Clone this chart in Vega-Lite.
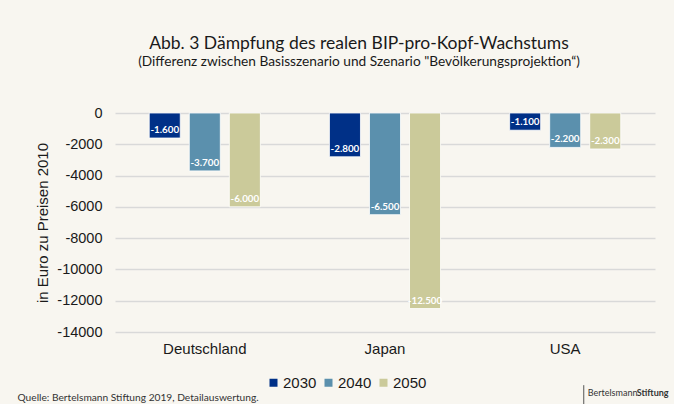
{
  "$schema": "https://vega.github.io/schema/vega-lite/v6.json",
  "width": 540,
  "height": 219,
  "autosize": {"type": "none"},
  "padding": {"left": 115, "top": 113, "right": 19, "bottom": 72},
  "background": "#F8F6F0",
  "title": {
    "text": "Abb. 3 Dämpfung des realen BIP-pro-Kopf-Wachstums",
    "subtitle": "(Differenz zwischen Basisszenario und Szenario \"Bevölkerungsprojektion“)",
    "anchor": "middle",
    "dx": -26,
    "offset": 36,
    "font": "Lato",
    "fontSize": 17.5,
    "fontWeight": "normal",
    "color": "#1a1a1a",
    "subtitleFont": "Lato",
    "subtitleFontSize": 13.7,
    "subtitleColor": "#1a1a1a",
    "subtitlePadding": 3
  },
  "datasets": {
    "werte": [
      {"land": "Deutschland", "jahr": "2030", "wert": -1600},
      {"land": "Deutschland", "jahr": "2040", "wert": -3700},
      {"land": "Deutschland", "jahr": "2050", "wert": -6000},
      {"land": "Japan", "jahr": "2030", "wert": -2800},
      {"land": "Japan", "jahr": "2040", "wert": -6500},
      {"land": "Japan", "jahr": "2050", "wert": -12500},
      {"land": "USA", "jahr": "2030", "wert": -1100},
      {"land": "USA", "jahr": "2040", "wert": -2200},
      {"land": "USA", "jahr": "2050", "wert": -2300}
    ],
    "logo": [
      {"land": "USA", "teil": "Bertelsmann"}
    ],
    "logo2": [
      {"land": "USA", "teil": "Stiftung"}
    ]
  },
  "encoding": {
    "x": {
      "field": "land",
      "type": "nominal",
      "sort": ["Deutschland", "Japan", "USA"],
      "scale": {"paddingInner": 0.3833, "paddingOuter": 0.19},
      "axis": {
        "title": "Quelle: Bertelsmann Stiftung 2019, Detailauswertung.",
        "titleX": -98,
        "titleY": 68,
        "titleAlign": "left",
        "titleAnchor": null,
        "titleBaseline": "alphabetic",
        "titleFont": "Lato",
        "titleFontSize": 10.2,
        "titleFontWeight": "normal",
        "titleColor": "#333333",
        "labelAngle": 0,
        "labelFont": "Liberation Sans",
        "labelFontSize": 15,
        "labelColor": "#1a1a1a",
        "labelPadding": 9,
        "ticks": false,
        "domain": false
      }
    }
  },
  "layer": [
    {
      "data": {"name": "werte"},
      "mark": {"type": "bar", "stroke": "#ffffff", "strokeWidth": 0.8},
      "encoding": {
        "y": {
          "field": "wert",
          "type": "quantitative",
          "scale": {"domain": [-14000, 0], "nice": false},
          "axis": {"title": "in Euro zu Preisen 2010", "values": [0, -2000, -4000, -6000, -8000, -10000, -12000, -14000], "format": "d", "labelOverlap": false}
        },
        "xOffset": {
          "field": "jahr",
          "type": "nominal",
          "sort": ["2030", "2040", "2050"],
          "scale": {"paddingInner": 0.225, "paddingOuter": 0}
        },
        "color": {
          "field": "jahr",
          "type": "nominal",
          "sort": ["2030", "2040", "2050"],
          "scale": {"domain": ["2030", "2040", "2050"], "range": ["#003087", "#5B90AD", "#CBCA9A"]},
          "legend": {
            "orient": "none",
            "legendX": 151,
            "legendY": 262,
            "direction": "horizontal",
            "title": null,
            "symbolType": "square",
            "symbolSize": 64,
            "symbolStrokeWidth": 0,
            "labelFont": "Liberation Sans",
            "labelFontSize": 15,
            "labelColor": "#1a1a1a",
            "labelOffset": 2,
            "columnPadding": 4
          }
        }
      }
    },
    {
      "data": {"name": "werte"},
      "mark": {"type": "text", "baseline": "bottom", "dy": -3, "font": "Lato", "fontSize": 9.8, "fontWeight": "bold", "color": "#ffffff"},
      "encoding": {
        "y": {"field": "wert", "type": "quantitative", "axis": {"title": "in Euro zu Preisen 2010", "values": [0, -2000, -4000, -6000, -8000, -10000, -12000, -14000], "format": "d", "labelOverlap": false}},
        "xOffset": {"field": "jahr", "type": "nominal", "sort": ["2030", "2040", "2050"]},
        "text": {"field": "wert", "type": "quantitative", "format": ",.0f"}
      }
    },
    {
      "data": {"name": "logo"},
      "mark": {"type": "text", "align": "left", "baseline": "alphabetic", "dx": -33, "font": "Lato", "fontSize": 9, "color": "#333333"},
      "encoding": {
        "x": {"field": "land", "type": "nominal", "bandPosition": 1},
        "y": {"datum": -18100, "type": "quantitative", "axis": {"title": "in Euro zu Preisen 2010", "values": [0, -2000, -4000, -6000, -8000, -10000, -12000, -14000], "format": "d", "labelOverlap": false}},
        "text": {"field": "teil"}
      }
    },
    {
      "data": {"name": "logo2"},
      "mark": {"type": "text", "align": "left", "baseline": "alphabetic", "dx": 16, "font": "Lato", "fontSize": 9, "fontWeight": "bold", "color": "#333333"},
      "encoding": {
        "x": {"field": "land", "type": "nominal", "bandPosition": 1},
        "y": {"datum": -18100, "type": "quantitative", "axis": {"title": "in Euro zu Preisen 2010", "values": [0, -2000, -4000, -6000, -8000, -10000, -12000, -14000], "format": "d", "labelOverlap": false}},
        "text": {"field": "teil"}
      }
    },
    {
      "data": {"name": "logo"},
      "mark": {"type": "rule", "xOffset": -37, "color": "#555555", "strokeWidth": 1},
      "encoding": {
        "x": {"field": "land", "type": "nominal", "bandPosition": 1},
        "y": {"datum": -17400, "type": "quantitative", "axis": {"title": "in Euro zu Preisen 2010", "values": [0, -2000, -4000, -6000, -8000, -10000, -12000, -14000], "format": "d", "labelOverlap": false}},
        "y2": {"datum": -18700}
      }
    }
  ],
  "config": {
    "view": {"stroke": null},
    "axisY": {
      "titleFont": "Liberation Sans",
      "titleFontSize": 15,
      "titleFontWeight": "normal",
      "titleColor": "#1a1a1a",
      "titlePadding": 6,
      "labelFont": "Liberation Sans",
      "labelFontSize": 14.5,
      "labelColor": "#1a1a1a",
      "labelPadding": 13,
      "ticks": false,
      "domain": false,
      "grid": true,
      "gridColor": "#D9D9D9",
      "gridWidth": 1.5
    },
    "locale": {
      "number": {"decimal": ",", "thousands": ".", "grouping": [3], "currency": ["", " €"], "minus": "-"}
    }
  }
}
